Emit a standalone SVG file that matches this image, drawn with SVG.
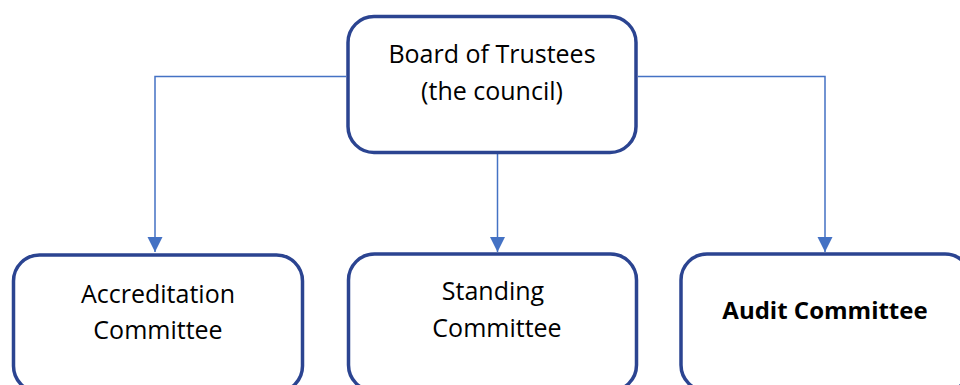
<svg xmlns="http://www.w3.org/2000/svg" width="960" height="385" viewBox="0 0 960 385">
  <defs>
    <marker id="arrow" markerWidth="16" markerHeight="16" refX="15" refY="7.5" orient="auto" markerUnits="userSpaceOnUse">
      <path d="M0,0 L15,7.5 L0,15 z" fill="#4472C4"/>
    </marker>
    <style>
      .box { fill: #ffffff; stroke: #2B4491; stroke-width: 3.5; }
      .conn { fill: none; stroke: #4472C4; stroke-width: 1.5; }
      .lbl { font-family: "Open Sans", "Noto Sans", "Liberation Sans", sans-serif; font-size: 25px; fill: #000000; text-anchor: middle; }
      .bold { font-weight: 700; font-size: 24px; }
    </style>
  </defs>
  <rect width="960" height="385" fill="#ffffff"/>
  <g id="connectors">
    <path class="conn" d="M346,76.5 H155 V252" marker-end="url(#arrow)"/>
    <path class="conn" d="M497.5,154 V252" marker-end="url(#arrow)"/>
    <path class="conn" d="M638,76.5 H825 V252" marker-end="url(#arrow)"/>
  </g>
  <g id="board">
    <rect class="box" x="348" y="16.5" width="288" height="136" rx="26" ry="26"/>
    <text class="lbl" x="492" y="63">Board of Trustees</text>
    <text class="lbl" x="492" y="100">(the council)</text>
  </g>
  <g id="accreditation">
    <rect class="box" x="13.5" y="255" width="289" height="137" rx="26" ry="26"/>
    <text class="lbl" x="158" y="303">Accreditation</text>
    <text class="lbl" x="158" y="339">Committee</text>
  </g>
  <g id="standing">
    <rect class="box" x="348.5" y="254" width="288" height="137" rx="26" ry="26"/>
    <text class="lbl" x="493" y="300">Standing</text>
    <text class="lbl" x="497" y="337">Committee</text>
  </g>
  <g id="audit">
    <rect class="box" x="681" y="254" width="290" height="137" rx="26" ry="26"/>
    <text class="lbl bold" x="825" y="319">Audit Committee</text>
  </g>
</svg>
